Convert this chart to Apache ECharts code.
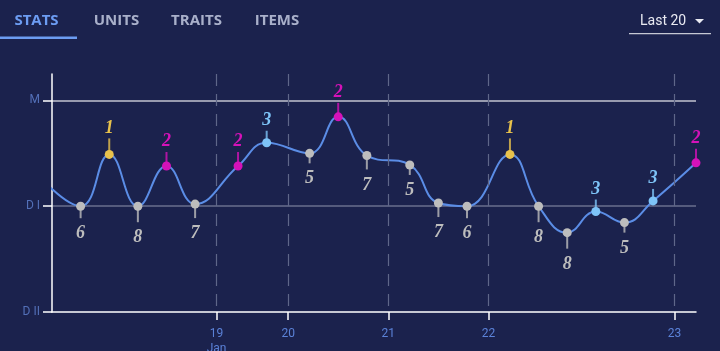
<!DOCTYPE html>
<html>
<head>
<meta charset="utf-8">
<script src="https://cdn.jsdelivr.net/npm/echarts@6/dist/echarts.min.js"></script>
<style>
  html, body { margin: 0; padding: 0; background: #1b224d; }
  #chart { width: 720px; height: 351px; }
</style>
</head>
<body>
<div id="chart"></div>
<script>
// placements of the last 20 games, with where they sit on the x scale and the rank value
const placements = [6, 1, 8, 2, 7, 2, 3, 5, 2, 7, 5, 7, 6, 1, 8, 8, 3, 5, 3, 2];
const matchPos = [0, 1, 2, 3, 4, 5.5, 6.5, 8, 9, 10, 11.5, 12.5, 13.5, 15, 16, 17, 18, 19, 20, 21.5];
const rankValues = [1.0, 1.49, 1.0, 1.38, 1.02, 1.38, 1.6, 1.5, 1.845, 1.48, 1.39, 1.03, 1.0, 1.49, 1.0, 0.75, 0.95, 0.845, 1.05, 1.41];
// the game before these 20, off the left edge
const prevGame = [-1.5, 1.3];

const dayTicks = [4.75, 7.25, 10.75, 14.25, 20.75];
const dayLabels = ['19\nJan', '20', '21', '22', '23'];
const rankTicks = [0, 1, 2];
const rankLabels = ['D II', 'D I', 'M'];
const tabs = ['STATS', 'UNITS', 'TRAITS', 'ITEMS'];

const placeColor = p => {
  if (p === 1) return '#e8c24c';
  if (p === 2) return '#d512b9';
  if (p === 3) return '#7ec4f8';
  return '#bdbdbd';
};
const stemLen = p => 9 + 2 * Math.abs(p - 4.5);

const lineData = [{ value: prevGame, symbol: 'none' }].concat(
  placements.map((p, i) => {
    const top = p <= 4;
    return {
      value: [matchPos[i], rankValues[i]],
      itemStyle: { color: placeColor(p) },
      label: {
        show: true,
        formatter: String(p),
        position: top ? 'top' : 'bottom',
        distance: top ? stemLen(p) - 3 : stemLen(p) + 2,
        color: placeColor(p)
      }
    };
  })
);

const stemData = placements.map((p, i) => {
  const len = stemLen(p);
  const top = p <= 4;
  return {
    value: [matchPos[i], rankValues[i]],
    symbolSize: [2, len],
    symbolOffset: [0, top ? -len / 2 : len / 2],
    itemStyle: { color: placeColor(p) }
  };
});

const tabX = [36.5, 116.5, 196.5, 277];
const graphics = tabs.map((t, i) => ({
  type: 'text',
  x: tabX[i],
  y: 21,
  style: {
    text: t,
    fill: i === 0 ? '#6c9cf2' : '#a9b0ca',
    font: 'bold 15px "Open Sans"',
    align: 'center',
    verticalAlign: 'middle'
  }
}));
graphics.push(
  { type: 'rect', shape: { x: 0, y: 36.5, width: 77, height: 2.5 }, style: { fill: '#6c9cf2' } },
  { type: 'text', x: 640, y: 21, style: { text: 'Last 20', fill: '#e9eaf2', font: '14px Roboto', verticalAlign: 'middle' } },
  { type: 'polygon', shape: { points: [[695, 19], [704, 19], [699.5, 23.5]] }, style: { fill: '#e9eaf2' } },
  { type: 'rect', shape: { x: 629, y: 33, width: 82, height: 1.2 }, style: { fill: '#c5c8d4' } }
);

const myChart = echarts.init(document.getElementById('chart'), null, { renderer: 'canvas' });

const option = {
  backgroundColor: '#1b224d',
  animation: false,
  graphic: graphics,
  grid: { left: 52, right: 24, top: 74, bottom: 39, outerBoundsMode: 'none', containLabel: false },
  xAxis: {
    type: 'value',
    min: -1,
    max: 21.5,
    axisLine: { show: true, onZero: false, lineStyle: { color: '#ffffff', width: 1.5 } },
    axisTick: { show: true, length: 8, customValues: dayTicks, lineStyle: { color: '#ffffff', width: 1.5 } },
    axisLabel: {
      customValues: dayTicks,
      margin: 14,
      color: '#5b82d8',
      fontFamily: 'Roboto',
      fontSize: 12,
      lineHeight: 15,
      formatter: v => dayLabels[dayTicks.indexOf(v)] || ''
    },
    splitLine: { show: false }
  },
  yAxis: {
    type: 'value',
    min: 0,
    max: 2.25,
    interval: 1,
    axisLine: { show: true, onZero: false, lineStyle: { color: '#ffffff', width: 1.5 } },
    axisTick: { show: true, length: 9, customValues: rankTicks, lineStyle: { color: '#ffffff', width: 1.5 } },
    axisLabel: {
      customValues: rankTicks,
      margin: 12,
      fontFamily: 'Roboto',
      fontSize: 12,
      color: v => (v === 2 ? '#5a3aa8' : '#5370b8'),
      formatter: v => rankLabels[rankTicks.indexOf(v)] || ''
    },
    splitLine: {
      show: true,
      lineStyle: { color: ['transparent', '#6a6f8e', '#c3c5d0', 'transparent'], width: 1.5 }
    }
  },
  series: [
    {
      type: 'scatter',
      symbol: 'rect',
      z: 1,
      silent: true,
      data: stemData
    },
    {
      type: 'line',
      z: 3,
      smooth: 0.45,
      symbol: 'circle',
      symbolSize: 9,
      showAllSymbol: true,
      lineStyle: { color: '#5b8de6', width: 2 },
      label: {
        fontFamily: 'Liberation Serif',
        fontStyle: 'italic',
        fontWeight: 'bold',
        fontSize: 18
      },
      data: lineData,
      markLine: {
        silent: true,
        symbol: ['none', 'none'],
        label: { show: false },
        lineStyle: { color: '#5f6789', type: [12, 8], width: 1.2 },
        data: dayTicks.map(v => [{ coord: [v, 2.25] }, { coord: [v, 0] }])
      }
    }
  ]
};

myChart.setOption(option);
window.addEventListener('resize', myChart.resize);
</script>
</body>
</html>
